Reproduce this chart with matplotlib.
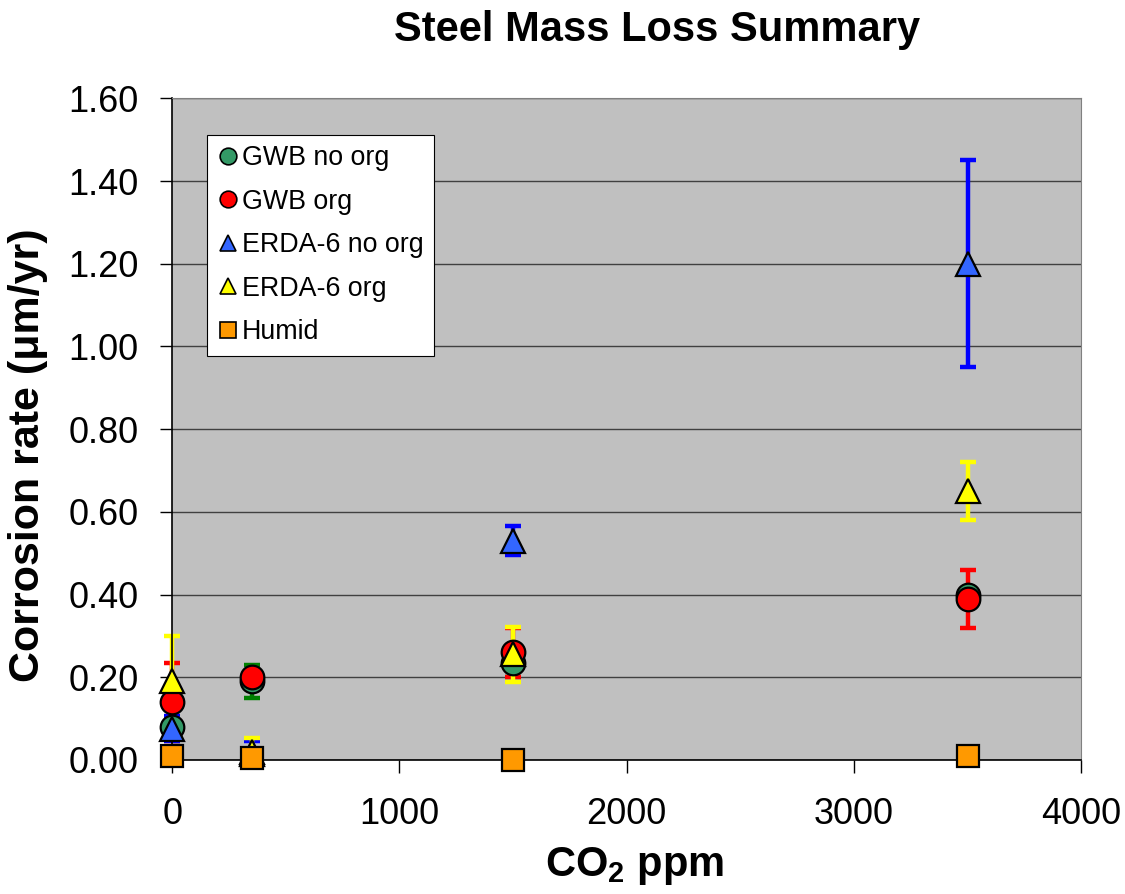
import matplotlib
matplotlib.use("Agg")
import matplotlib.pyplot as plt
from matplotlib.lines import Line2D

plt.rcParams["font.family"] = ["Liberation Sans", "DejaVu Sans"]
plt.rcParams["mathtext.fontset"] = "custom"
plt.rcParams["mathtext.rm"] = "Liberation Sans"
plt.rcParams["mathtext.bf"] = "Liberation Sans:bold"

# CO2 concentrations (ppm)
co2 = [0, 350, 1500, 3500]

gwb_no_org = [0.08, 0.19, 0.235, 0.40]
gwb_no_org_err = [0.0, 0.04, 0.035, 0.0]

gwb_org = [0.14, 0.20, 0.26, 0.39]
gwb_org_err = [0.095, 0.0, 0.06, 0.07]

erda_no_org = [0.075, 0.015, 0.53, 1.20]
erda_no_org_err = [0.03, 0.03, 0.035, 0.25]

erda_org = [0.19, 0.02, 0.255, 0.65]
erda_org_err = [0.11, 0.033, 0.067, 0.07]

humid = [0.01, 0.005, 0.0, 0.01]

SERIES = [
    ("GWB no org", gwb_no_org, gwb_no_org_err, "o", "#339966", "#008000"),
    ("GWB org", gwb_org, gwb_org_err, "o", "#FF0000", "#FF0000"),
    ("ERDA-6 no org", erda_no_org, erda_no_org_err, "^", "#3366FF", "#0000FF"),
    ("ERDA-6 org", erda_org, erda_org_err, "^", "#FFFF00", "#FFFF00"),
    ("Humid", humid, None, "s", "#FF9900", None),
]

fig = plt.figure(figsize=(11.25, 8.94), dpi=100)
ax = fig.add_axes([0.153, 0.150, 0.808, 0.740])
ax.set_facecolor("#C0C0C0")

# error bars first, then markers on top in series order
for label, vals, err, marker, face, ecol in SERIES:
    if err is not None:
        ax.errorbar(co2, vals, yerr=err, fmt="none", ecolor=ecol, elinewidth=3.2,
                    capsize=6, capthick=3.2, zorder=2, clip_on=False)
handles = []
for i, (label, vals, err, marker, face, ecol) in enumerate(SERIES):
    ms = 17 if marker != "s" else 16
    ax.plot(co2, vals, linestyle="none", marker=marker, markersize=ms,
            markerfacecolor=face, markeredgecolor="black", markeredgewidth=1.6,
            zorder=3 + i, clip_on=False)
    handles.append(Line2D([], [], linestyle="none", marker=marker, markersize=12,
                          markerfacecolor=face, markeredgecolor="black",
                          markeredgewidth=1.2, label=label))

ax.set_xlim(0, 4000)
ax.set_ylim(0, 1.6)
ax.set_xticks(range(0, 4001, 1000))
ax.set_yticks([i * 0.2 for i in range(9)])
ax.set_yticklabels([f"{i * 0.2:.2f}" for i in range(9)])
ax.grid(axis="y", color="#404040", linewidth=1.0)
ax.set_axisbelow(True)
for side in ("top", "right"):
    ax.spines[side].set_color("#808080")
for side in ("left", "bottom"):
    ax.spines[side].set_color("black")
    ax.spines[side].set_linewidth(1.2)
ax.tick_params(axis="both", direction="out", length=9, width=1.0, labelsize=26)
ax.tick_params(axis="x", pad=18)
ax.tick_params(axis="y", pad=15)

fig.text(0.584, 0.966, "Steel Mass Loss Summary", fontsize=30, fontweight="bold",
         ha="center", va="center")
ax.set_xlabel(r"CO$_\mathbf{2}$ ppm", fontsize=30, fontweight="bold")
ax.xaxis.set_label_coords(0.509, -0.128)
ax.set_ylabel("Corrosion rate (μm/yr)", fontsize=31, fontweight="bold")
ax.yaxis.set_label_coords(-0.137, 0.461)

leg = ax.legend(handles=handles, loc="upper left", bbox_to_anchor=(0.038, 0.945),
                fontsize=19.3, frameon=True, fancybox=False, framealpha=1,
                edgecolor="black", handlelength=0.8, handletextpad=0.1,
                labelspacing=0.65, borderpad=0.4, borderaxespad=0)
leg.get_frame().set_linewidth(0.8)

fig.savefig("out.png", dpi=100, facecolor="white")
